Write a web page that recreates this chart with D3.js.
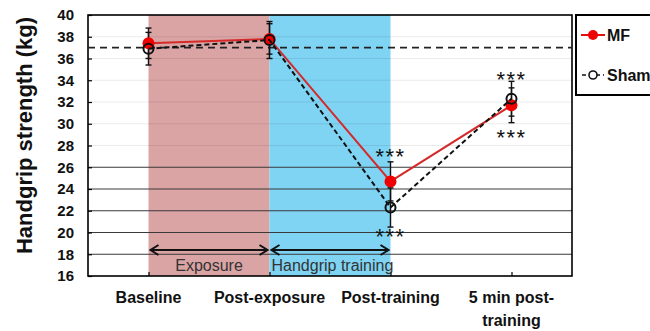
<!DOCTYPE html>
<html>
<head>
<meta charset="utf-8">
<script src="https://cdn.jsdelivr.net/npm/d3@7"></script>
<style>
  html, body { margin: 0; padding: 0; background: #fff; }
  svg { display: block; font-family: Arial, "Liberation Sans", sans-serif; }
</style>
</head>
<body>
<svg id="chart" width="650" height="331"></svg>
<script>
// Time points
const categories = ["Baseline", "Post-exposure", "Post-training", "5 min post-training"];
const categoryLines = [["Baseline"], ["Post-exposure"], ["Post-training"], ["5 min post-", "training"]];

// Mean handgrip strength (kg) and error bar half-widths
const mfMeans = [37.4, 37.8, 24.7, 31.7];
const mfErrors = [1.4, 1.4, 1.8, 1.6];
const shamMeans = [36.9, 37.7, 22.3, 32.3];
const shamErrors = [1.5, 1.7, 1.8, 1.6];

// Baseline reference level
const referenceLevel = 37.0;

// Y axis ticks
const yTicks = [16, 18, 20, 22, 24, 26, 28, 30, 32, 34, 36, 38, 40];
const darkGridTicks = [18, 20, 22, 24, 26];
const lightGridTicks = [28, 30, 32, 34, 36, 38];

// Phases shaded between time points
const phases = [
  { label: "Exposure", from: "Baseline", to: "Post-exposure", color: "#daa3a4", anchor: "middle" },
  { label: "Handgrip training", from: "Post-exposure", to: "Post-training", color: "#7fd3f3", anchor: "start" }
];

// Significance markers: category and value level of the marker centre
const starCategories = ["Post-training", "Post-training", "5 min post-training", "5 min post-training"];
const starLevels = [27.4, 20.05, 34.5, 29.15];

const svg = d3.select("#chart");
const plotLeft = 88, plotRight = 572, plotTop = 15, plotBottom = 276;

const x = d3.scalePoint().domain(categories).range([plotLeft, plotRight]).padding(0.5);
const y = d3.scaleLinear().domain([16, 40]).range([plotBottom, plotTop]);

// Phase shading
svg.selectAll("rect.phase").data(phases).join("rect")
  .attr("class", "phase")
  .attr("x", d => x(d.from))
  .attr("y", plotTop)
  .attr("width", d => x(d.to) - x(d.from))
  .attr("height", plotBottom - plotTop)
  .attr("fill", d => d.color);

// Gridlines
svg.selectAll("line.gl").data(lightGridTicks).join("line")
  .attr("class", "gl")
  .attr("x1", plotLeft).attr("x2", plotRight)
  .attr("y1", d => y(d)).attr("y2", d => y(d))
  .attr("stroke", "#000").attr("stroke-opacity", 0.08).attr("stroke-width", 1);
svg.selectAll("line.gd").data(darkGridTicks).join("line")
  .attr("class", "gd")
  .attr("x1", plotLeft).attr("x2", plotRight)
  .attr("y1", d => y(d)).attr("y2", d => y(d))
  .attr("stroke", "#3a3a3a").attr("stroke-width", 1);

// Axes
const yAxis = svg.append("g").attr("transform", `translate(${plotLeft},0)`)
  .call(d3.axisLeft(y).tickValues(yTicks).tickSize(-4).tickPadding(14).tickFormat(d3.format("d")));
yAxis.select(".domain").remove();
yAxis.selectAll("text").attr("font-size", 15).attr("font-weight", "bold").attr("fill", "#111");
yAxis.selectAll("line").attr("stroke", "#000").attr("stroke-width", 1.2);

const xAxis = svg.append("g").attr("transform", `translate(0,${plotBottom})`)
  .call(d3.axisBottom(x).tickSize(-4).tickFormat(""));
xAxis.select(".domain").remove();
xAxis.selectAll("line").attr("stroke", "#000").attr("stroke-width", 1.2);

// Category labels
categories.forEach((c, i) => {
  const t = svg.append("text")
    .attr("x", x(c)).attr("y", 303)
    .attr("text-anchor", "middle")
    .attr("font-size", 16).attr("font-weight", "bold").attr("fill", "#111");
  categoryLines[i].forEach((line, j) => {
    t.append("tspan").attr("x", x(c)).attr("dy", j === 0 ? 0 : 23).text(line);
  });
});

// Plot frame
svg.append("rect")
  .attr("x", plotLeft).attr("y", plotTop)
  .attr("width", plotRight - plotLeft).attr("height", plotBottom - plotTop)
  .attr("fill", "none").attr("stroke", "#000").attr("stroke-width", 1.6);

// Y axis title
svg.append("text")
  .attr("transform", `translate(32,${(plotTop + plotBottom) / 2 - 10}) rotate(-90)`)
  .attr("text-anchor", "middle")
  .attr("font-size", 22).attr("font-weight", "bold").attr("fill", "#111")
  .text("Handgrip strength (kg)");

// Phase arrows and labels
const arrowY = 250;
phases.forEach(p => {
  const x0 = x(p.from) + 2, x1 = x(p.to) - 2;
  const g = svg.append("g").attr("stroke", "#111").attr("stroke-width", 2).attr("fill", "none");
  g.append("line").attr("x1", x0).attr("x2", x1).attr("y1", arrowY).attr("y2", arrowY);
  g.append("path").attr("d", `M${x0 + 8},${arrowY - 5}L${x0},${arrowY}L${x0 + 8},${arrowY + 5}`);
  g.append("path").attr("d", `M${x1 - 8},${arrowY - 5}L${x1},${arrowY}L${x1 - 8},${arrowY + 5}`);
  svg.append("text")
    .attr("x", p.anchor === "middle" ? (x(p.from) + x(p.to)) / 2 : x(p.from) + 2)
    .attr("y", 271)
    .attr("text-anchor", p.anchor)
    .attr("font-size", 16).attr("fill", "#333")
    .text(p.label);
});

// Reference dashed line
svg.append("line")
  .attr("x1", plotLeft).attr("x2", plotRight)
  .attr("y1", y(referenceLevel)).attr("y2", y(referenceLevel))
  .attr("stroke", "#222").attr("stroke-width", 1.6).attr("stroke-dasharray", "7,5");

// Error bars
function errorBars(means, errs, cls) {
  const g = svg.append("g").attr("class", cls).attr("stroke", "#111").attr("stroke-width", 1.4);
  categories.forEach((c, i) => {
    const cx = x(c), y0 = y(means[i] - errs[i]), y1 = y(means[i] + errs[i]);
    g.append("line").attr("x1", cx).attr("x2", cx).attr("y1", y0).attr("y2", y1);
    g.append("line").attr("x1", cx - 3).attr("x2", cx + 3).attr("y1", y0).attr("y2", y0);
    g.append("line").attr("x1", cx - 3).attr("x2", cx + 3).attr("y1", y1).attr("y2", y1);
  });
}
errorBars(shamMeans, shamErrors, "sham-err");
errorBars(mfMeans, mfErrors, "mf-err");

const line = d3.line().x((d, i) => x(categories[i])).y(d => y(d));

// MF series
svg.append("path").datum(mfMeans)
  .attr("d", line).attr("fill", "none")
  .attr("stroke", "#d42a2a").attr("stroke-width", 2);
svg.selectAll("circle.mf").data(mfMeans).join("circle")
  .attr("class", "mf")
  .attr("cx", (d, i) => x(categories[i])).attr("cy", d => y(d))
  .attr("r", 6).attr("fill", "#f00000");

// Sham series
svg.append("path").datum(shamMeans)
  .attr("d", line).attr("fill", "none")
  .attr("stroke", "#111").attr("stroke-width", 2).attr("stroke-dasharray", "5,3");
svg.selectAll("circle.sham").data(shamMeans).join("circle")
  .attr("class", "sham")
  .attr("cx", (d, i) => x(categories[i])).attr("cy", d => y(d))
  .attr("r", 5).attr("fill", "none").attr("stroke", "#111").attr("stroke-width", 2);

// Significance markers
svg.selectAll("text.star").data(starLevels).join("text")
  .attr("class", "star")
  .attr("x", (d, i) => x(starCategories[i]))
  .attr("y", d => y(d) + 12)
  .attr("text-anchor", "middle")
  .attr("font-size", 22).attr("letter-spacing", 1.5).attr("fill", "#111")
  .text("***");

// Legend
const lg = svg.append("g");
lg.append("rect").attr("x", 576).attr("y", 15).attr("width", 100).attr("height", 80)
  .attr("fill", "#fff").attr("stroke", "#000").attr("stroke-width", 2);
lg.append("line").attr("x1", 581).attr("x2", 605).attr("y1", 35).attr("y2", 35)
  .attr("stroke", "#e01010").attr("stroke-width", 2);
lg.append("circle").attr("cx", 593).attr("cy", 35).attr("r", 5).attr("fill", "#f00000");
lg.append("text").attr("x", 607).attr("y", 41).attr("font-size", 16).attr("font-weight", "bold")
  .attr("fill", "#111").text("MF");
lg.append("line").attr("x1", 582).attr("x2", 604).attr("y1", 75).attr("y2", 75)
  .attr("stroke", "#111").attr("stroke-width", 1.6).attr("stroke-dasharray", "4,3");
lg.append("circle").attr("cx", 593).attr("cy", 75).attr("r", 4).attr("fill", "#fff")
  .attr("stroke", "#111").attr("stroke-width", 1.6);
lg.append("text").attr("x", 607).attr("y", 81).attr("font-size", 16).attr("font-weight", "bold")
  .attr("fill", "#111").text("Sham");
</script>
</body>
</html>
